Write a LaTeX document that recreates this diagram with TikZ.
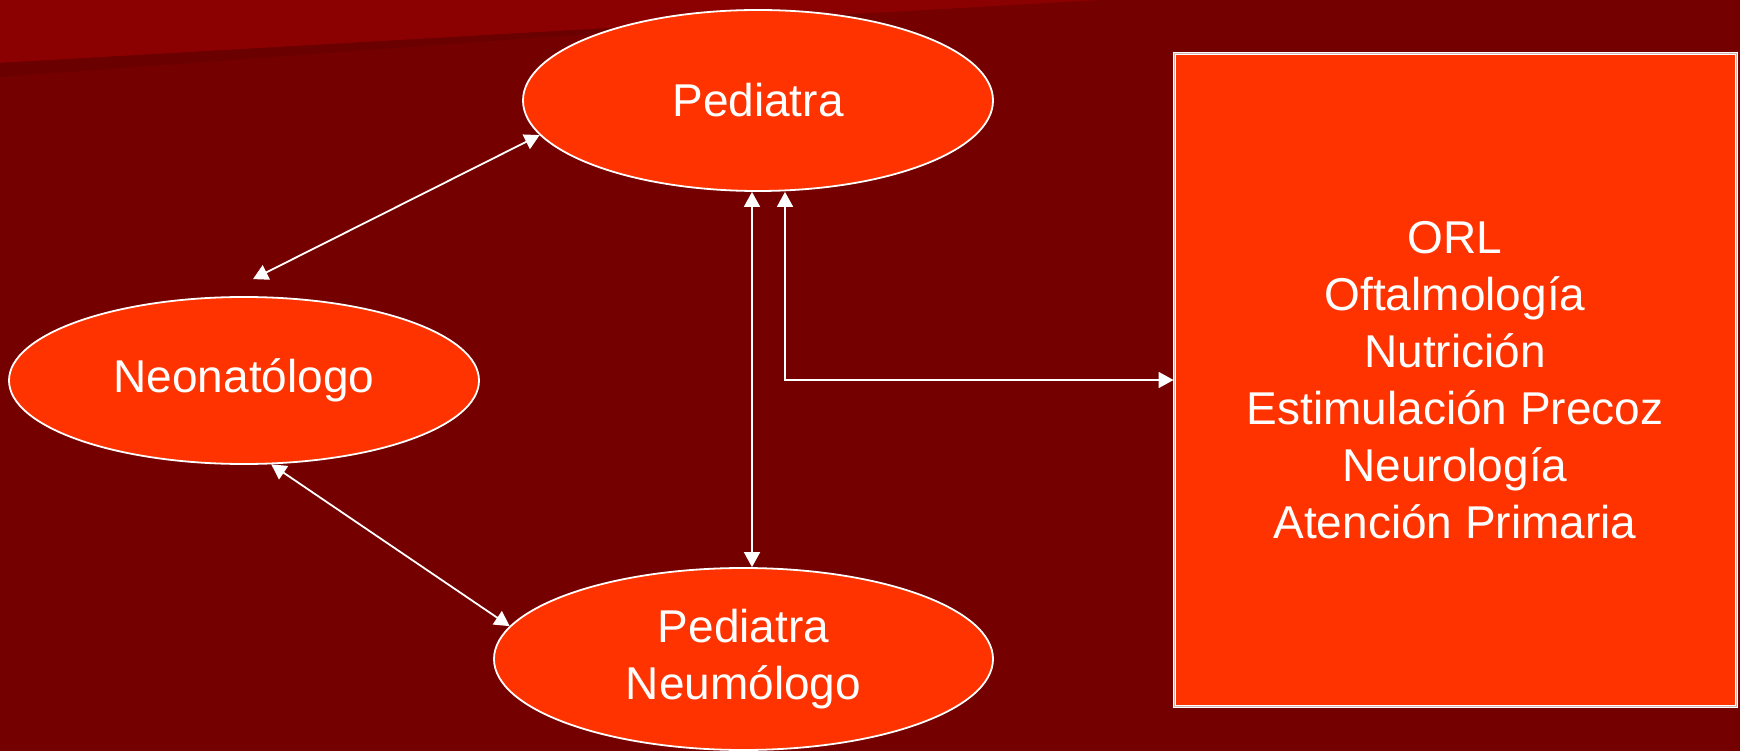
\documentclass[tikz,border=0pt]{standalone}
\usepackage{fontspec}
\setmainfont{Liberation Sans}
\usetikzlibrary{shapes.geometric,arrows.meta}
\definecolor{bgred}{RGB}{116,0,0}
\definecolor{hired}{RGB}{139,0,0}
\definecolor{lored}{RGB}{106,0,0}
\definecolor{flame}{RGB}{255,51,0}
\tikzset{
  blob/.style={ellipse,fill=flame,draw=white,line width=0.9pt,inner sep=0pt,
    text=white,align=center,font=\fontsize{23pt}{28.5pt}\selectfont},
  panel/.style={rectangle,fill=flame,draw=white,line width=0.5pt,
    double=white!70!bgred,double distance=0.5pt,inner sep=0pt,
    text=white,align=center,font=\fontsize{23pt}{28.5pt}\selectfont},
  link/.style={white,line width=0.9pt,
    {Triangle[length=7.5pt,width=8pt]}-{Triangle[length=7.5pt,width=8pt]}}
}
\begin{document}
\begin{tikzpicture}[x=50pt,y=50pt]
\useasboundingbox (0,0) rectangle (17.4,7.51);
% background
\fill[bgred] (0,0) rectangle (17.4,7.51);
\fill[hired] (0,7.51) -- (11,7.51) -- (0,6.88) -- cycle;
\fill[lored] (0,6.88) -- (8.8,7.384) -- (0,6.74) -- cycle;
% nodes
\node[blob,minimum width=235pt,minimum height=90.5pt] (ped) at (7.58,6.505) {Pediatra};
\node[blob,minimum width=235pt,minimum height=83.5pt] (neo) at (2.44,3.705) {Neonatólogo};
\node[blob,minimum width=249.5pt,minimum height=91pt] (pn) at (7.435,0.92) {Pediatra\\Neumólogo};
\node[panel,minimum width=281pt,minimum height=326pt] (esp) at (14.55,3.71)
  {ORL\\Oftalmología\\Nutrición\\Estimulación Precoz\\Neurología\\Atención Primaria};
% arrows
\coordinate (neotop) at ([shift={(4.5pt,8.5pt)}]neo.north);
\draw[link] (ped.189) -- (neotop);
\draw[link] (neo.288) -- (pn.172);
\draw[link] ([xshift=-3pt]ped.south) -- ([xshift=-3pt]ped.south |- pn.north);
\draw[link] ([xshift=13.5pt]ped.south) |- (esp.west);
\end{tikzpicture}
\end{document}
